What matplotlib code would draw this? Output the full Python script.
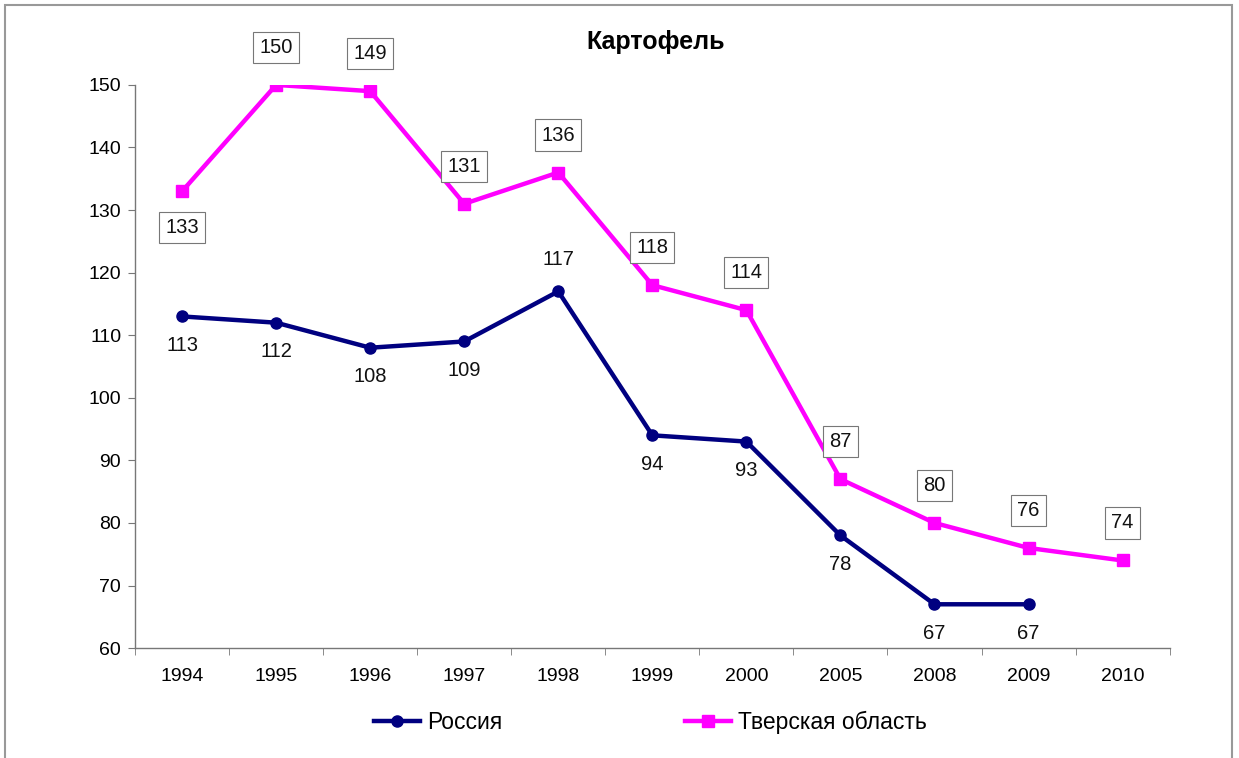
import matplotlib
matplotlib.use('Agg')
import matplotlib.pyplot as plt
from matplotlib.patches import Rectangle
import numpy as np

plt.rcParams['font.family'] = ['Liberation Sans', 'DejaVu Sans']

years = ['1994', '1995', '1996', '1997', '1998', '1999', '2000', '2005', '2008', '2009', '2010']
russia = [113, 112, 108, 109, 117, 94, 93, 78, 67, 67]
tver = [133, 150, 149, 131, 136, 118, 114, 87, 80, 76, 74]
# label above (+1) or below (-1) the point
russia_side = [-1, -1, -1, -1, 1, -1, -1, -1, -1, -1]
tver_side = [-1, 1, 1, 1, 1, 1, 1, 1, 1, 1, 1]

navy = '#000080'
magenta = '#FF00FF'

fig = plt.figure(figsize=(12.39, 7.58), dpi=100)
ax = fig.add_axes([0.109, 0.145, 0.835, 0.743])

x = np.arange(len(years))
ax.plot(x[:len(russia)], russia, color=navy, lw=3.2, marker='o', ms=8,
        label='Россия', zorder=3)
ax.plot(x, tver, color=magenta, lw=3.2, marker='s', ms=8.5,
        label='Тверская область', zorder=3)

for i, v in enumerate(russia):
    off = 23 if russia_side[i] > 0 else -21
    ax.annotate(str(v), (x[i], v), xytext=(0, off), textcoords='offset points',
                ha='center', va='center', fontsize=14.5, color='#111111')

for i, v in enumerate(tver):
    off = 27 if tver_side[i] > 0 else -26
    ax.annotate(str(v), (x[i], v), xytext=(0, off), textcoords='offset points',
                ha='center', va='center', fontsize=14.5, color='#111111',
                bbox=dict(boxstyle='square,pad=0.3', fc='white', ec='#777777', lw=0.8))

ax.set_xlim(-0.5, len(years) - 0.5)
ax.set_ylim(60, 150)
ax.set_yticks(range(60, 151, 10))
ax.set_xticks(x)
ax.set_xticklabels(years)
ax.set_xticks(np.arange(-0.5, len(years), 1), minor=True)
ax.tick_params(axis='x', which='major', length=0, pad=14, labelsize=14)
ax.tick_params(axis='x', which='minor', length=5, color='#777777')
ax.tick_params(axis='y', length=5, color='#777777', pad=5, labelsize=14)

for s in ['top', 'right']:
    ax.spines[s].set_visible(False)
for s in ['left', 'bottom']:
    ax.spines[s].set_color('#777777')
    ax.spines[s].set_linewidth(1)

fig.text(0.529, 0.944, 'Картофель', ha='center', va='center',
         fontsize=18, fontweight='bold')

fig.legend(loc='center', bbox_to_anchor=(0.525, 0.047), ncol=2, frameon=False,
           fontsize=16.5, handlelength=2.0, handletextpad=0.3,
           columnspacing=8, markerscale=1.0)

fig.patches.append(Rectangle((0.004, -0.01), 0.99, 1.003, transform=fig.transFigure,
                             fill=False, ec='#999999', lw=1.5))

fig.savefig('out.png', dpi=100)
